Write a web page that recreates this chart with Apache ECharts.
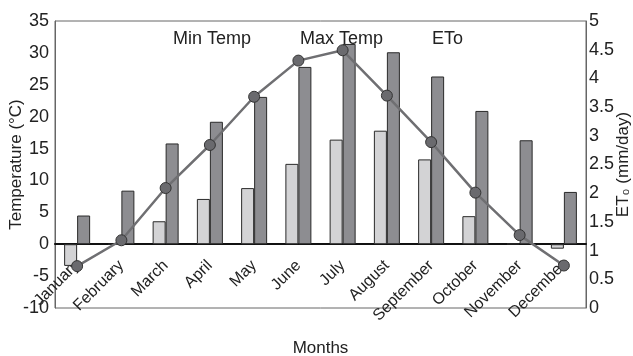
<!DOCTYPE html>
<html><head><meta charset="utf-8">
<script src="https://cdn.jsdelivr.net/npm/echarts@6/dist/echarts.min.js"></script>
<style>html,body{margin:0;padding:0;background:#fff}#c{width:633px;height:356px}</style>
</head><body><div id="c"></div>
<script>
const months = ["January","February","March","April","May","June","July","August","September","October","November","December"];
const minTemp = [-3.4, 0, 3.6, 7.1, 8.8, 12.6, 16.4, 17.8, 13.3, 4.4, 0.1, -0.7];
const maxTemp = [4.5, 8.4, 15.8, 19.2, 23.1, 27.8, 31.4, 30.1, 26.3, 20.9, 16.3, 8.2];
const eto = [0.73, 1.18, 2.09, 2.84, 3.68, 4.31, 4.49, 3.70, 2.89, 2.01, 1.27, 0.74];
const leftTicks = {min: -10, max: 35, interval: 5};
const rightTicks = {min: 0, max: 5, interval: 0.5};

const FONT = '"Liberation Sans", Arial, sans-serif';
const chart = echarts.init(document.getElementById('c'));
chart.setOption({
  animation: false,
  textStyle: {fontFamily: FONT},
  grid: {left: 55, right: 47, top: 21, bottom: 48, show: true, borderColor: '#666', borderWidth: 1,
         containLabel: false, outerBoundsMode: 'none'},
  legend: {
    data: ['Min Temp', 'Max Temp', 'ETo'],
    left: 162, top: 25, itemWidth: 0, itemHeight: 0, itemGap: 43,
    textStyle: {fontSize: 18, color: '#222', fontFamily: FONT}
  },
  xAxis: {
    type: 'category', data: months, name: 'Months', nameLocation: 'middle', nameGap: 32,
    nameMoveOverlap: false,
    nameTextStyle: {fontSize: 17, color: '#222', fontFamily: FONT},
    axisLine: {onZero: true, lineStyle: {color: '#111', width: 2}},
    axisTick: {show: false},
    axisLabel: {rotate: 45, fontSize: 16, color: '#222', margin: -45, interval: 0, fontFamily: FONT}
  },
  yAxis: [{
    type: 'value', min: leftTicks.min, max: leftTicks.max, interval: leftTicks.interval,
    name: 'Temperature (°C)', nameLocation: 'middle', nameGap: 30, nameRotate: 90,
    nameMoveOverlap: false,
    nameTextStyle: {fontSize: 17, color: '#222', fontFamily: FONT},
    splitLine: {show: false}, axisTick: {show: false},
    axisLine: {show: true, onZero: false, lineStyle: {color: '#666'}},
    axisLabel: {fontSize: 18, color: '#222', margin: 6, fontFamily: FONT}
  }, {
    type: 'value', min: rightTicks.min, max: rightTicks.max, interval: rightTicks.interval,
    name: 'ET₀ (mm/day)', nameLocation: 'middle', nameGap: 29, nameRotate: 90,
    nameMoveOverlap: false,
    nameTextStyle: {fontSize: 17, color: '#222', fontFamily: FONT},
    splitLine: {show: false}, axisTick: {show: false},
    axisLine: {show: true, onZero: false, lineStyle: {color: '#666'}},
    axisLabel: {fontSize: 18, color: '#222', margin: 3, fontFamily: FONT}
  }],
  series: [{
    name: 'Min Temp', type: 'bar', data: minTemp, barWidth: 13, barGap: '0%',
    itemStyle: {color: '#d3d3d5', borderColor: '#2a2a2a', borderWidth: 1}
  }, {
    name: 'Max Temp', type: 'bar', data: maxTemp, barWidth: 13, barGap: '0%',
    itemStyle: {color: '#8d8d91', borderColor: '#2a2a2a', borderWidth: 1}
  }, {
    name: 'ETo', type: 'line', yAxisIndex: 1, data: eto,
    symbol: 'circle', symbolSize: 11,
    lineStyle: {color: '#6f6f72', width: 2.5},
    itemStyle: {color: '#6a6a6e', borderColor: '#333', borderWidth: 1}
  }]
});
</script></body></html>
